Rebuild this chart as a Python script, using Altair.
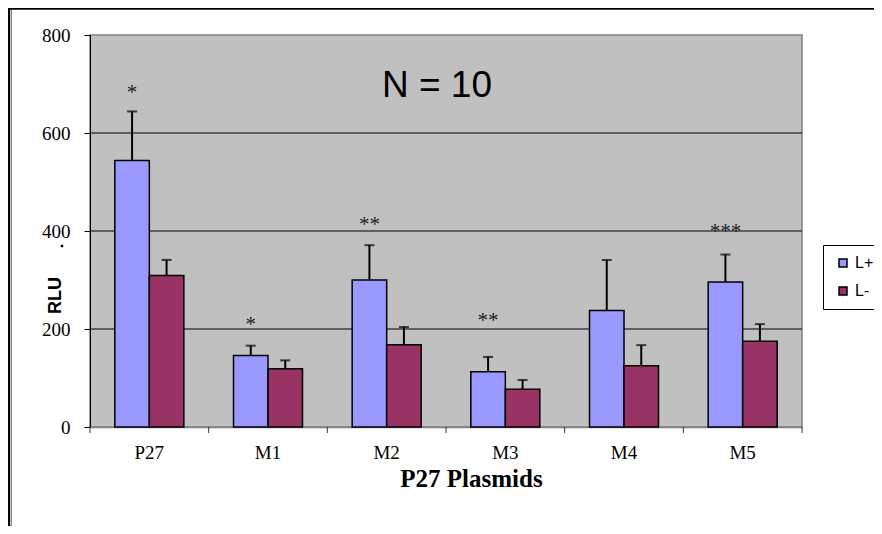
import altair as alt
import pandas as pd

# ---- data ----
categories = ["P27", "M1", "M2", "M3", "M4", "M5"]
series = ["L+", "L-"]
l_plus_mean = [544, 146, 300, 113, 238, 296]
l_plus_err = [100, 20, 71, 30, 103, 56]
l_minus_mean = [309, 119, 168, 77, 125, 175]
l_minus_err = [32, 17, 36, 19, 42, 35]
sig_labels = ["*", "*", "**", "**", "", "***"]
sig_y = [670, 196, 399, 204, 0, 385]
y_ticks = [0, 200, 400, 600, 800]
grid_values = [200, 400, 600]
annotation = ["N = 10"]
x_title = "P27 Plasmids"
y_title = "RLU"

rows = []
for i, c in enumerate(categories):
    rows.append({"cat": c, "series": "L+", "mean": l_plus_mean[i], "top": l_plus_mean[i] + l_plus_err[i]})
    rows.append({"cat": c, "series": "L-", "mean": l_minus_mean[i], "top": l_minus_mean[i] + l_minus_err[i]})
df = pd.DataFrame(rows)

sig_df = pd.DataFrame({"cat": categories, "label": sig_labels, "y": sig_y, "series": ["L+"] * len(categories)})
sig_df = sig_df[sig_df["label"] != ""]

W, H = 712, 392

xscale = alt.Scale(domain=categories, paddingInner=0.4186, paddingOuter=0.2093)
offscale = alt.Scale(domain=series, paddingInner=0, paddingOuter=0)
yscale = alt.Scale(domain=[0, 800], nice=False)
colors = alt.Scale(domain=series, range=["#9999FF", "#993366"])

x_axis = alt.Axis(
    title=x_title, titleFont="Liberation Serif", titleFontSize=25, titleFontWeight="bold",
    titleColor="black", titleX=381, titleY=59, titleBaseline="alphabetic",
    labelFont="Liberation Serif", labelFontSize=19, labelColor="black", labelAngle=0,
    labelPadding=16, ticks=False, domainColor="#808080", domainWidth=1.5,
)
y_axis = alt.Axis(
    values=y_ticks, title=y_title, titleFont="Liberation Sans", titleFontSize=18,
    titleFontWeight="bold", titleColor="black", titleX=-35, titleY=260,
    titleAlign="center", titleBaseline="middle",
    labelFont="Liberation Serif", labelFontSize=19, labelColor="black", labelPadding=14,
    tickColor="black", tickSize=6, domainColor="black", grid=False,
)

x_enc = alt.X("cat:N", scale=xscale, axis=x_axis)
xo_enc = alt.XOffset("series:N", scale=offscale)

grid = alt.Chart(pd.DataFrame({"v": grid_values})).mark_rule(color="black", strokeWidth=1).encode(
    y=alt.Y("v:Q", scale=yscale, axis=y_axis)
)

bars = alt.Chart(df).mark_bar(stroke="black", strokeWidth=1.5).encode(
    x=x_enc,
    xOffset=xo_enc,
    y=alt.Y("mean:Q", scale=yscale, axis=y_axis),
    fill=alt.Fill(
        "series:N", scale=colors,
        legend=alt.Legend(
            title=None, orient="none", legendX=733, legendY=210,
            symbolType="square", symbolSize=64, symbolStrokeColor="black",
            symbolStrokeWidth=1.5, labelFont="Liberation Sans", labelFontSize=16,
            labelColor="black", fillColor="white", strokeColor="black",
            padding=10, rowPadding=12, labelOffset=4, symbolOffset=2,
        ),
    ),
)

err = alt.Chart(df).mark_rule(color="black", strokeWidth=2).encode(
    x=x_enc, xOffset=xo_enc, y=alt.Y("mean:Q", scale=yscale), y2="top:Q"
)
caps = alt.Chart(df).mark_tick(color="black", thickness=2, size=10).encode(
    x=x_enc, xOffset=xo_enc, y=alt.Y("top:Q", scale=yscale)
)
sig = alt.Chart(sig_df).mark_text(
    font="Liberation Serif", fontSize=21, baseline="alphabetic", color="#222222"
).encode(x=x_enc, xOffset=xo_enc, y=alt.Y("y:Q", scale=yscale), text="label:N")

note = alt.Chart(pd.DataFrame({"t": annotation})).mark_text(
    font="Liberation Sans", fontSize=37, baseline="alphabetic", align="center", color="black"
).encode(text="t:N", x=alt.value(347), y=alt.value(62))

main = alt.layer(grid, bars, err, caps, sig, note)

xticks = alt.Chart(pd.DataFrame({"b": list(range(len(categories) + 1))})).mark_rule(
    color="#333333", strokeWidth=1
).encode(
    x=alt.X("b:Q", scale=alt.Scale(domain=[0, len(categories)], nice=False, zero=False), axis=None),
    y=alt.value(H), y2=alt.value(H + 6),
)

one = pd.DataFrame({"d": [0]})
frame_left = alt.Chart(one).mark_rule(color="black", strokeWidth=2.5).encode(
    x=alt.value(-81), y=alt.value(-27), y2=alt.value(520)
)
frame_left2 = alt.Chart(one).mark_rule(color="#888888", strokeWidth=1).encode(
    x=alt.value(-78.5), y=alt.value(-25), y2=alt.value(520)
)
frame_top = alt.Chart(one).mark_rule(color="black", strokeWidth=2.5).encode(
    x=alt.value(-82), x2=alt.value(800), y=alt.value(-26.5)
)
dot = alt.Chart(one).mark_square(color="black", size=6, opacity=1).encode(
    x=alt.value(-28), y=alt.value(211)
)

chart = alt.layer(main, xticks, frame_left, frame_left2, frame_top, dot).resolve_scale(
    x="independent"
).properties(
    width=W, height=H,
    autosize=alt.AutoSizeParams(type="none"),
    padding={"left": 82, "top": 27, "right": 72, "bottom": 99},
    background="white",
).configure_view(fill="#C0C0C0", stroke="#808080", strokeWidth=1.5)

chart.save("out.html", embed_options={"renderer": "svg", "actions": False})
